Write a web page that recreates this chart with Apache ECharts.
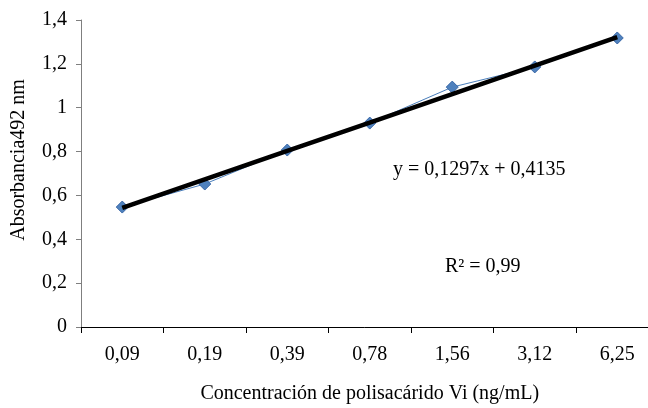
<!DOCTYPE html>
<html><head><meta charset="utf-8">
<script src="https://cdn.jsdelivr.net/npm/echarts@6/dist/echarts.min.js"></script>
<style>html,body{margin:0;padding:0;background:#fff;overflow:hidden}#c{width:648px;height:408px}</style>
</head><body><div id="c"></div>
<script>
var categories = ['0,09','0,19','0,39','0,78','1,56','3,12','6,25'];
var absorbance = [0.547, 0.652, 0.807, 0.930, 1.094, 1.186, 1.318];
var trendValues = [0.543, 0.673, 0.803, 0.932, 1.062, 1.192, 1.322];
var yTicks = [0, 0.2, 0.4, 0.6, 0.8, 1, 1.2, 1.4];
var equationText = 'y = 0,1297x + 0,4135';
var r2Text = 'R² = 0,99';
var xTitle = 'Concentración de polisacárido Vi (ng/mL)';
var yTitle = 'Absorbancia492 nm';

var font = '"Liberation Serif", "Times New Roman", serif';
var chart = echarts.init(document.getElementById('c'));
chart.setOption({
  animation: false,
  backgroundColor: '#fff',
  grid: {left: 81, top: 20, width: 577.5, height: 307, containLabel: false, outerBoundsMode: 'none'},
  xAxis: {
    type: 'category', data: categories, boundaryGap: true,
    name: xTitle, nameLocation: 'middle', nameGap: 57,
    nameTextStyle: {fontFamily: font, fontSize: 20, color: '#000'},
    axisLine: {lineStyle: {color: '#000', width: 1}},
    axisTick: {show: true, length: 6, alignWithLabel: false, lineStyle: {color: '#000'}},
    axisLabel: {fontFamily: font, fontSize: 20, color: '#000', margin: 18},
    splitLine: {show: false}
  },
  yAxis: {
    type: 'value', min: 0, max: 1.4, interval: 0.2,
    axisLine: {show: true, lineStyle: {color: '#7f7f7f', width: 1}},
    axisTick: {show: true, length: 5, lineStyle: {color: '#7f7f7f'}},
    axisLabel: {fontFamily: font, fontSize: 20, color: '#000', margin: 14,
      formatter: function (v) {
        var t = yTicks.filter(function (x) { return Math.abs(x - v) < 1e-6; });
        return t.length ? String(+v.toFixed(1)).replace('.', ',') : '';
      }},
    splitLine: {show: false}
  },
  series: [
    {
      type: 'line', data: absorbance, symbol: 'diamond', symbolSize: 12,
      lineStyle: {color: '#4a7ebb', width: 1},
      itemStyle: {color: '#4f81bd', borderColor: '#3a68a8', borderWidth: 1},
      z: 2
    },
    {
      type: 'line', data: trendValues, symbol: 'none',
      lineStyle: {color: '#000', width: 4.5},
      z: 3
    }
  ],
  graphic: [
    {type: 'text', x: 19, y: 160, rotation: Math.PI / 2,
      style: {text: yTitle, font: '20px ' + font, fill: '#000', align: 'center', verticalAlign: 'middle'}},
    {type: 'text', x: 393, y: 170,
      style: {text: equationText, font: '20px ' + font, fill: '#000', align: 'left', verticalAlign: 'middle'}},
    {type: 'text', x: 445, y: 267,
      style: {text: r2Text, font: '20px ' + font, fill: '#000', align: 'left', verticalAlign: 'middle'}}
  ]
});
</script></body></html>
